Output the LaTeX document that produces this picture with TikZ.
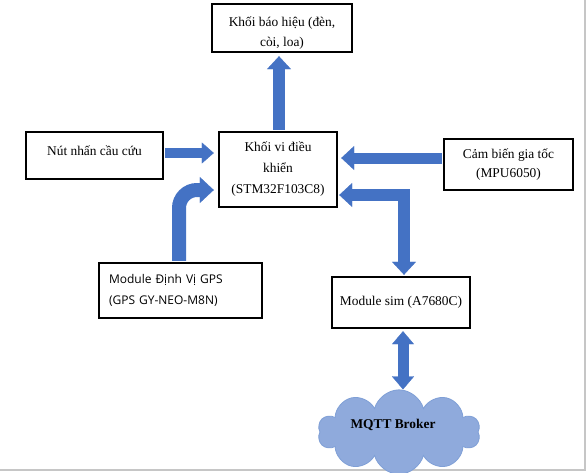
\documentclass[tikz,border=0pt]{standalone}
\usepackage{fontspec}
\setmainfont{Liberation Serif}
\newfontfamily\gpsfont{Open Sans}
\usetikzlibrary{arrows.meta,shapes.symbols,calc}
\definecolor{arrblue}{HTML}{4472C4}
\definecolor{cloudfill}{HTML}{8FAADC}
\definecolor{cloudline}{HTML}{7F9FD6}
\newcommand\shiftlines[2]{\raisebox{#1}[\height][\depth]{\begin{tabular}{@{}c@{}}#2\end{tabular}}}
\begin{document}
\begin{tikzpicture}[x=1pt,y=-1pt,
  box/.style={draw=black,line width=2.4pt,fill=white,inner sep=4pt,align=center,
    font=\fontsize{13.4}{19.5}\selectfont},
  barrow/.style n args={3}{draw=arrblue,line width=#1,
    -{Triangle[width=#2,length=#3,line width=0.3pt]}},
  bbarrow/.style n args={3}{draw=arrblue,line width=#1,line join=miter,
    {Triangle[width=#2,length=#3,line width=0.3pt]}-{Triangle[width=#2,length=#3,line width=0.3pt]}}]
\fill[white] (0,0) rectangle (586,472);
\useasboundingbox (0,0) rectangle (586,472);
\draw[gray!45,line width=1.5pt] (585.2,0) -- (585.2,470.2) -- (0,470.2);

\node[box,minimum width=140pt,minimum height=48pt] (alarm) at (282,28) {\shiftlines{-4.5pt}{Khối báo hiệu (đèn,\\còi, loa)}};
\node[box,minimum width=118pt,minimum height=75pt] (ctrl) at (278,169.5) {Khối vi điều\\[1.5pt]khiển\\[1.5pt](STM32F103C8)};
\node[box,minimum width=137pt,minimum height=47pt] (btn) at (94.5,155.5) {\raisebox{5pt}[\height][\depth]{Nút nhấn cầu cứu}};
\node[box,minimum width=129pt,minimum height=51pt] (accel) at (508.5,164.5) {Cảm biến gia tốc\\(MPU6050)};
\node[box,minimum width=163pt,minimum height=55pt,align=left,text width=143pt,
  font=\gpsfont\fontsize{12}{21}\selectfont] (gps) at (180.5,290.5) {Module Định Vị GPS\\(GPS GY-NEO-M8N)};
\node[box,minimum width=138pt,minimum height=51pt] (sim) at (401,302.5) {Module sim (A7680C)};
\node[cloud,cloud puffs=10,aspect=2.3,draw=cloudline,fill=cloudfill,line width=0.8pt,
  minimum width=162pt,minimum height=70pt,
  font=\bfseries\fontsize{13.4}{16}\selectfont] (cloud) at (399,432)
  {\raisebox{7pt}[\height][\depth]{\hspace*{-6pt}MQTT Broker\hspace*{6pt}}};

\draw[barrow={12pt}{24pt}{13pt}] ($(ctrl.north)+(1,-1)$) -- ($(ctrl.north |- alarm.south)+(1,3)$);
\draw[barrow={10pt}{21pt}{12pt}] ($(btn.east)+(1,-2.5)$) -- ($(btn.east -| ctrl.west)+(-4,-2.5)$);
\draw[barrow={11pt}{24pt}{13pt}] ($(accel.west)+(-1,-6.5)$) -- ($(accel.west -| ctrl.east)+(3,-6.5)$);
\draw[bbarrow={12pt}{24pt}{13pt}] ($(ctrl.east)+(1,25.5)$) -| ($(sim.north)+(3,-1)$);
\draw[barrow={14pt}{26pt}{14pt},rounded corners=18pt] ($(gps.north)+(-1.5,-1)$) |- ($(ctrl.west)+(-4,20.5)$);
\draw[bbarrow={11pt}{22pt}{13pt}] ($(sim.south)+(2,2)$) -- ($(sim.south |- cloud.north)+(2,0)$);
\end{tikzpicture}
\end{document}
